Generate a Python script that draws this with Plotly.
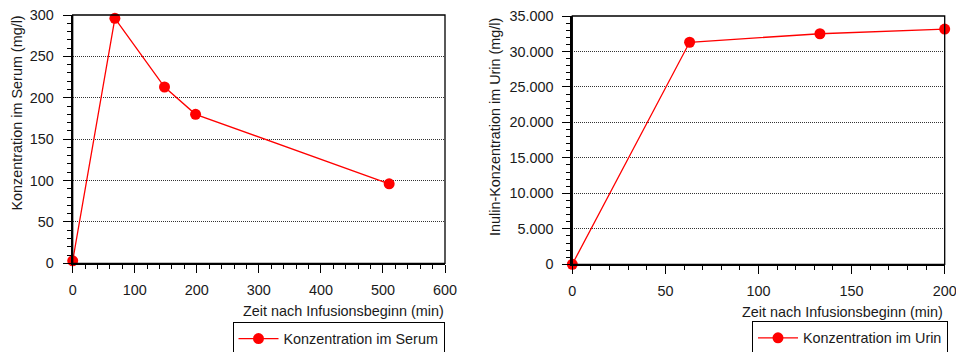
import plotly.graph_objects as go

# Data
serum_t = [0, 68, 148, 198, 510]
serum_c = [3, 296, 213, 180, 96]
urin_t = [0, 63, 133, 200]
urin_c = [0, 31300, 32500, 33150]

serum_yticks = [0, 50, 100, 150, 200, 250, 300]
serum_xticks = [0, 100, 200, 300, 400, 500, 600]
urin_yticks = [0, 5000, 10000, 15000, 20000, 25000, 30000, 35000]
urin_ytext = ["0", "5.000", "10.000", "15.000", "20.000", "25.000", "30.000", "35.000"]
urin_xticks = [0, 50, 100, 150, 200]

W, H = 956, 352
FONT = "Liberation Sans, Arial, sans-serif"
FS = 14.4
TXT = "#1a1a1a"
RED = "#ff0000"

def px(x):
    return x / W

def py(y):
    return 1 - y / H

fig = go.Figure()
fig.add_trace(go.Scatter(x=serum_t, y=serum_c, mode="lines+markers",
                         name="Konzentration im Serum", xaxis="x", yaxis="y",
                         line=dict(color=RED, width=1.3),
                         marker=dict(color=RED, size=11), cliponaxis=False,
                         legend="legend"))
fig.add_trace(go.Scatter(x=urin_t, y=urin_c, mode="lines+markers",
                         name="Konzentration im Urin", xaxis="x2", yaxis="y2",
                         line=dict(color=RED, width=1.3),
                         marker=dict(color=RED, size=11), cliponaxis=False,
                         legend="legend2"))

common_axis = dict(showline=True, linecolor="black", linewidth=2, ticks="outside",
                   ticklen=8, tickwidth=1, tickcolor="black", zeroline=False,
                   automargin=False, ticklabeloverflow="allow",
                   tickfont=dict(family=FONT, size=FS, color=TXT))
grid = dict(showgrid=True, gridcolor="#333", griddash="1px,1px", gridwidth=1)

fig.update_layout(
    width=W, height=H, margin=dict(l=0, r=0, t=0, b=0, autoexpand=False),
    paper_bgcolor="white", plot_bgcolor="white",
    font=dict(family=FONT, size=FS, color=TXT),
    xaxis=dict(domain=[px(72.7), px(445)], range=[0, 600], tickvals=serum_xticks,
               showgrid=False, anchor="y", ticklabelstandoff=4,
               minor=dict(dtick=20, ticks="outside", ticklen=4, tickcolor="black", showgrid=False),
               **common_axis),
    yaxis=dict(domain=[py(263.3), py(15)], range=[0, 300], tickvals=serum_yticks,
               anchor="x", ticklabelstandoff=6,
               minor=dict(dtick=10, ticks="outside", ticklen=4, tickcolor="black", showgrid=False),
               **grid, **common_axis),
    xaxis2=dict(domain=[px(572.3), px(944.7)], range=[0, 200], tickvals=urin_xticks,
                showgrid=False, anchor="y2", ticklabelstandoff=4,
                minor=dict(dtick=10, ticks="outside", ticklen=4, tickcolor="black", showgrid=False),
                **common_axis),
    yaxis2=dict(domain=[py(264.3), py(16)], range=[0, 35000], tickvals=urin_yticks,
                ticktext=urin_ytext,
                anchor="x2", ticklabelstandoff=6,
                minor=dict(dtick=1000, ticks="outside", ticklen=4, tickcolor="black", showgrid=False),
                **grid, **common_axis),
    legend=dict(x=px(444.5), xanchor="right", y=py(321.7), yanchor="top",
                bordercolor="black", borderwidth=1, bgcolor="white",
                itemwidth=40, font=dict(family=FONT, size=FS, color=TXT)),
    legend2=dict(x=px(948), xanchor="right", y=py(321), yanchor="top",
                 bordercolor="black", borderwidth=1, bgcolor="white",
                 itemwidth=40, font=dict(family=FONT, size=FS, color=TXT)),
    showlegend=True,
)

# frame (thin top/right border)
for xr, yr in (("x domain", "y domain"), ("x2 domain", "y2 domain")):
    fig.add_shape(type="rect", xref=xr, yref=yr, x0=0, x1=1, y0=0, y1=1,
                  line=dict(color="black", width=1.3), layer="above")

# axis titles
fig.add_annotation(text="Zeit nach Infusionsbeginn (min)", xref="paper", yref="paper",
                   x=px(446), y=py(311), xanchor="right", yanchor="middle",
                   showarrow=False, font=dict(family=FONT, size=FS, color=TXT))
fig.add_annotation(text="Zeit nach Infusionsbeginn (min)", xref="paper", yref="paper",
                   x=px(945), y=py(312), xanchor="right", yanchor="middle",
                   showarrow=False, font=dict(family=FONT, size=FS, color=TXT))
fig.add_annotation(text="Konzentration im Serum (mg/l)", xref="paper", yref="paper",
                   x=px(16), y=py(14), xanchor="center", yanchor="top", textangle=-90,
                   showarrow=False, font=dict(family=FONT, size=FS, color=TXT))
fig.add_annotation(text="Inulin-Konzentration im Urin (mg/l)", xref="paper", yref="paper",
                   x=px(495), y=py(16), xanchor="center", yanchor="top", textangle=-90,
                   showarrow=False, font=dict(family=FONT, size=FS, color=TXT))

fig.write_html("out.html")
